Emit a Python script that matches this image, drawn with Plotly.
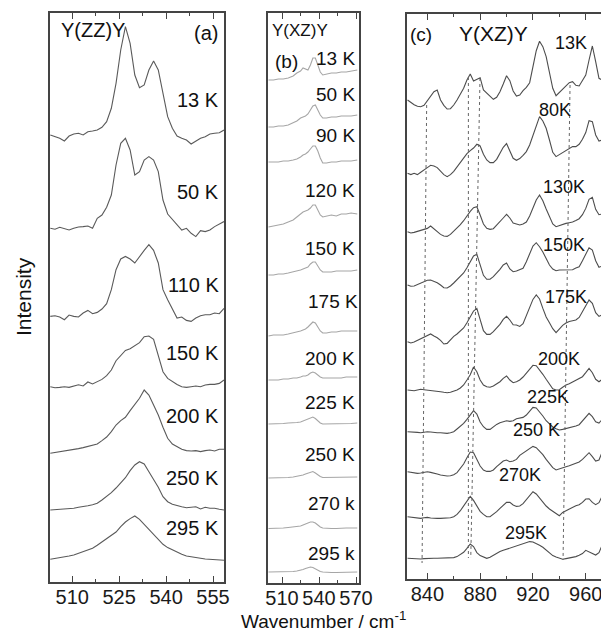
import plotly.graph_objects as go

W, H = 609, 634
BODY = 8                      # default page margin of the html body
FW, FH = W - BODY, H - BODY   # figure size that fits the window
FONT = "Liberation Sans, Arial, sans-serif"

# ---------------- panel (a)  Y(ZZ)Y ----------------
wn_a = [503, 504.5, 506, 507.5, 509, 510.5, 512, 513.5, 515, 516.5, 518, 519.5, 521, 522.5,
        524, 525.5, 527, 528.5, 530, 531.5, 533, 534.5, 536, 537.5, 539, 540.5, 542, 543.5,
        545, 546.5, 548, 549.5, 551, 552.5, 554, 555.5, 557, 558.5]
labels_a = ["13 K", "50 K", "110 K", "150 K", "200 K", "250 K", "295 K"]
offset_a = [448, 354.7, 266.3, 196.3, 129.7, 73, 23.7]
a_13K = [0, -1.7, -3.3, -6, -1, 1, 1.7, 0, 3.3, 4, 5, 7.7, 13.3, 26.7, 51.7, 85, 108.3, 91.7, 60, 47.3,
         50, 65, 74, 65, 41.7, 18.3, 6.7, -1, -3.3, -5, -9, -5.7, -3.3, -1.7, 1, 1.7, 2.3, 5]
a_50K = [0, -1, 1, 0, -1.7, 0, 1.3, 1.7, 2.3, 0, 10, 13.3, 21, 33.3, 63.3, 85, 90, 78.3, 53.3, 56.7,
         68.3, 71.7, 68.3, 56.7, 28.3, 14.3, 9, 3.3, -1.7, 0, -5, -8.3, -2.3, -3.3, -1.7, 1.7, 4, 6.7]
a_110K = [0.3, 1, -0.3, -3, 1.7, 0.3, -0.3, 3.7, 6.3, 3, 4.3, 7.7, 13, 27, 47, 57.7, 60.3, 57.7, 53.7,
          60.3, 66.3, 72, 66.3, 53.7, 27, 17, 7.7, -1.3, -0.3, -3.7, -4.7, -1.3, 1, 2, 2, 3.7, 3, 8.3]
a_150K = [0, -1, -0.7, 0, -0.7, 0.7, 2, 0.7, 4.7, 2.7, 5, 7.3, 11, 16.7, 26, 31.7, 36.3, 38, 41, 44,
          50, 50.7, 47.3, 31.7, 15, 8.3, 5, 2.3, 0, -0.7, 0, 0.7, 0, 1.7, 2.3, 2.3, 3.3, 6.7]
a_200K = [0, 0.7, 1.7, 2, 3.3, 3.3, 4.7, 5.7, 6.7, 8, 9.3, 12.7, 16.3, 21.7, 28.3, 32.7, 36, 42.7, 48.7,
          55, 63.3, 58.3, 48.3, 38.3, 26, 15, 9.3, 6.7, 4, 2.7, 2.3, 2.7, 1.7, 2.7, 3.3, 2.3, 4, 4]
a_250K = [0, 0.3, 0.7, 1, 1.3, 1.7, 2.7, 3.3, 4.3, 5.3, 6.7, 10, 13.3, 17.3, 22, 26.7, 32.3, 39.3, 45,
          48.3, 46, 38.3, 30.7, 22.7, 13.3, 8.3, 5.7, 4.3, 3.3, 2.3, 2.7, 3.3, 1, 2.7, 1.7, 1.7, 0.7, 0]
a_295K = [0, 0.7, 1.3, 2.3, 3.3, 4.3, 6, 7.3, 9, 11, 14, 17.3, 20.7, 23.3, 27.3, 32.7, 37.3, 40.7, 43.3,
          40, 35, 29, 24, 19.3, 15, 11.7, 9.3, 6.7, 5, 3.3, 2.3, 1.7, 1, 0.3, 0, 0, -0.7, -1]
spectra_a = [a_13K, a_50K, a_110K, a_150K, a_200K, a_250K, a_295K]

# ---------------- panel (b)  Y(XZ)Y ----------------
wn_b = [499, 503, 507, 511, 515, 519, 522, 525, 527, 529, 531, 533, 535, 537, 539, 541, 543, 546,
        550, 554, 558, 562, 566, 571]
labels_b = ["13 K", "50 K", "90 K", "120 K", "150 K", "175 K", "200 K", "225 K", "250 K", "270 k", "295 k"]
offset_b = [503, 456, 421, 356, 308, 247, 203, 159, 105, 54.5, 11]
b_13K = [0, 0, 1, 1, 2, 4, 7, 9, 12, 11, 10, 15, 22, 22, 14, 8, 5, 6, 7, 7, 8, 8, 9, 10]
b_50K = [0, 0, 1, 1, 2, 4, 6, 9, 10, 11, 13, 17, 21, 22, 17, 12, 9, 9, 10, 10, 11, 11, 11, 12]
b_90K = [0, 0, 0, 1, 1, 2, 3, 5, 7, 8, 10, 13, 16, 16, 11, 4, -1, -1, 0, 0, 1, 1, 1, 2]
b_120K = [0, 1, 2, 3, 5, 7, 10, 13, 15, 16, 17, 19, 22, 22, 17, 12, 10, 11, 12, 11, 13, 13, 14, 13]
b_150K = [0, 0, 1, 1, 2, 3, 4, 5, 6, 7, 8, 11, 13, 13, 9, 5, 3, 3, 3, 4, 4, 4, 4, 5]
b_175K = [0, 1, 1, 1, 2, 3, 4, 5, 6, 7, 9, 12, 14, 13, 9, 5, 3, 3, 4, 4, 5, 5, 5, 5]
b_200K = [0, 0, 0, 1, 1, 2, 2, 3, 4, 4, 5, 7, 8, 7, 5, 3, 2, 2, 2, 2, 2, 3, 3, 3]
b_225K = [0, 0, 0.5, 0.5, 1, 1, 1.5, 2, 3, 4, 5, 6.5, 7, 5.5, 3, 1, 0, 0, 0, 0, 0.5, 0.5, 0.5, 1]
b_250K = [0, 0, 0, 0.5, 0.5, 1, 1.5, 2, 3, 4, 5, 6, 6.5, 5, 3, 1.5, 0.5, 0.5, 0.5, 0.5, 1, 1, 1, 1]
b_270K = [0, 0, 0.5, 0.5, 1, 1.5, 2, 2.5, 3.5, 4.5, 5.5, 6.5, 6.5, 5.5, 3.5, 1.5, 0.5, 0, 0, 0, 0.5, 0.5, 0.5, 0.5]
b_295K = [0, 0, 0, 0, 0.5, 0.5, 1, 1.5, 2.5, 3.5, 4.5, 5, 4.5, 3, 1.5, 0.5, 0, -0.5, -0.5, -0.5, -0.5, 0, 0, 0]
spectra_b = [b_13K, b_50K, b_90K, b_120K, b_150K, b_175K, b_200K, b_225K, b_250K, b_270K, b_295K]

# ---------------- panel (c)  Y(XZ)Y ----------------
wn_c = [825, 827.5, 830, 832.5, 835, 837.5, 840, 842.5, 845, 847.5, 850, 852.5, 855, 857.5, 860,
        862.5, 865, 867.5, 870, 872.5, 875, 877.5, 880, 882.5, 885, 887.5, 890, 892.5, 895, 897.5,
        900, 902.5, 905, 907.5, 910, 912.5, 915, 917.5, 920, 922.5, 925, 927.5, 930, 932.5, 935,
        937.5, 940, 942.5, 945, 947.5, 950, 952.5, 955, 957.5, 960, 962.5, 965, 967.5, 970, 972.5,
        975, 977.5]
labels_c = ["13K", "80K", "130K", "150K", "175K", "200K", "225K", "250 K", "270K", "295K"]
offset_c = [483, 409.7, 351.3, 298, 241.3, 193, 151.3, 111.3, 66.3, 24.7]
c_13K = [0, -2.7, -4.7, -6.3, -6.7, -5.3, -0.7, 4, 8.3, 10, 0, -5.3, -9, -8.7, -5, 0, 6, 11.7, 20, 26,
         19, 20.7, 22.3, 10, 6.7, 4, 0.7, 2.7, 8.3, 16, 24.3, 19.3, 9, 4, 5, 9.3, 12.7, 17.3, 31.7, 49.3,
         58.7, 53.3, 43.3, 26.7, 11.7, 4.3, 7.3, 10.7, 14, 17.3, 18.3, 14.7, 14, 19.3, 25, 40, 54, 38.3,
         21.7, 20, 23.3, 31.7]
c_80K = [0, -1.3, 0, -1.3, 1, 3, 5.7, 8, 7.3, 5.7, 1.7, -1.3, -3.3, -1.3, 2, 6.3, 10.3, 14.7, 19.7,
         22.7, 25.3, 29, 27.3, 19, 13.3, 10.7, 10.7, 14, 20, 26, 29.7, 21.7, 15, 13, 14.7, 18, 21.7,
         28.3, 38.3, 49, 56.7, 52.3, 45, 33.3, 21, 16.7, 18.7, 20.3, 22, 24, 26.7, 26.7, 29, 34, 40.7,
         52.7, 51.7, 38.3, 32.3, 33.3, 36, 45]
c_130K = [0, -1.3, -0.7, 0.3, 1.3, 2.3, 3.3, 5.7, 3, -0.3, -2.7, -4.3, -4.7, -2.7, 0.3, 3.7, 7, 11,
          16.3, 20.3, 24, 25, 16.7, 7.7, 3.3, 2.3, 3, 6.3, 10, 13.7, 17.3, 13.7, 8.7, 7.7, 6.7, 7.7, 9.7,
          15.7, 24, 31.7, 36.7, 31, 22.7, 14.3, 7.7, 5, 6.3, 7.3, 8.3, 9, 9.7, 11.3, 13, 17, 23.3, 32.3,
          34.3, 22.3, 17, 17.7, 22.3, 30]
c_150K = [0, -1.3, -1, 0.3, 1.3, 3, 4.7, 5, 4, 2.3, 0, -2.7, -3, -1, 2, 5.3, 8.7, 12, 17.3, 23.7, 29,
          30.7, 20, 9.7, 5.7, 5.7, 8.3, 11.7, 15.7, 20, 22, 16, 13.3, 14, 15, 16.7, 23.3, 31.7, 39, 42.3,
          38.3, 33, 26.3, 20, 16, 14.3, 15, 15, 14.7, 15.3, 15.3, 17, 18.3, 24.3, 30.7, 37.3, 35, 24.3,
          17.7, 19, 23.3, 31]
c_175K = [0, -1.3, -0.3, 1.3, 3, 4.7, 6.3, 7.7, 5.7, 4, 1.3, -2.3, -1.7, 2, 5.3, 7.7, 10.3, 13.7, 19,
          24.7, 30.7, 33.3, 21.7, 11, 7.3, 7.3, 10, 13.3, 17.3, 22.3, 25.3, 21.7, 17, 16.7, 15.3, 18,
          25.7, 34, 42.3, 46.7, 42.7, 33.3, 24.7, 19, 13, 9, 12.7, 16.3, 18.7, 20.3, 21, 21.7, 24.3,
          29.7, 36.3, 41.7, 38.3, 29, 25.3, 27, 33, 41]
c_200K = [0, -0.3, -0.7, 0, 0.7, 0.3, 0, -0.3, -0.7, -1, -1.7, -2.3, -2.7, -2.3, -1.3, 0, 2, 5, 10,
          15.3, 23, 18.3, 10, 5, 3.3, 2.7, 4, 6, 8.3, 11.7, 14, 10, 7.3, 8.3, 10, 13, 17, 21, 24.7, 24.3,
          20.3, 15.7, 10.7, 5.7, 1.3, 0, 0.3, 2.7, 5, 6.3, 8, 9.7, 11.3, 13.3, 17.3, 21.7, 17.3, 10.7,
          8.3, 10.7, 18.3, 30]
c_225K = [0, 0, -0.3, -0.7, -1, -0.3, 0, -0.3, -1, -1, -1, -1.3, -1.7, -1, 0, 2.7, 5.3, 8.3, 12.3, 17,
          21, 17.7, 9.7, 5, 2.3, 2.3, 5, 7.3, 9, 10, 11, 10.3, 11, 13, 13.3, 14.3, 16.7, 20.7, 24.3, 23.7,
          20, 15.7, 11, 7.3, 4.7, 3, 1.7, 2.3, 3, 3.7, 4.7, 5.7, 7, 10.7, 14.3, 18.3, 15, 10, 8.7, 12.3,
          22.3, 34.3]
c_250K = [0, -0.7, -1.3, -1.7, -1.3, -0.3, 0, -0.7, -1.3, -2.3, -3.3, -4, -4.3, -4, -3, -1, 3, 7.7,
          14, 19.7, 19, 12.3, 5.7, 1.7, 0.3, 0.3, 1.7, 5, 8.3, 10.7, 11.7, 10, 10.7, 12.3, 16.3, 18.7,
          20.7, 23, 25.3, 24, 20.7, 17, 12.3, 8, 4, 1.7, 3, 4, 5, 6, 7.3, 8.3, 9.7, 12.3, 16, 19, 15,
          10.7, 11.7, 20, 35, 51.7]
c_270K = [0, -0.3, -1, -1.3, -1.7, -1, -0.7, -1.3, -1.7, -1.7, -1.7, -1.7, -1.7, -1, 0, 2.3, 6, 11,
          16.3, 20.3, 16.3, 10, 5.3, 2.3, 0, 0, 2.3, 5, 8.3, 11.7, 14.3, 14.3, 11.7, 10.3, 10.7, 13,
          17.3, 21.7, 25, 22.7, 18.7, 14, 10.7, 7.7, 5.3, 3.3, 1, 4.3, 6, 7.7, 9.7, 11, 12, 14.3, 17.7,
          18, 14.3, 12, 14, 20.7, 35, 52.7]
c_295K = [0, -0.3, -0.7, -1, -0.7, -0.3, 0, 0, 0, 0, 0, 0, 0, 0.3, 0.7, 1.7, 3.7, 6, 10, 14.3, 11.7,
          5.7, 2.7, 1, 0, 1, 3, 5, 6.7, 8, 9, 10, 11, 12, 13.3, 14.7, 15.7, 16.7, 16.3, 15, 13, 11, 8,
          5.3, 2.7, 1.3, 0, -1, -0.3, 0.3, 1, 1.7, 3, 4.7, 8, 6.7, 4.7, 3.3, 5.7, 13.3, 25, 45]
spectra_c = [c_13K, c_80K, c_130K, c_150K, c_175K, c_200K, c_225K, c_250K, c_270K, c_295K]

# dotted guide lines in panel (c): (wavenumber top, intensity top, wavenumber bottom, intensity bottom)
guides_c = [(839.5, 478, 836, 20), (871.1, 506, 871.1, 25), (879.9, 505, 872.9, 25), (948.1, 498, 942.8, 23)]

COL_A = "#5a5a5a"
COL_B = "#a6a6a6"
COL_C = "#4d4d4d"
AX_COL = "#444444"


def fx(p):
    return (p - BODY) / FW


def fy(p):
    return 1 - (p - BODY) / FH


fig = go.Figure()
for vals, off in zip(spectra_a, offset_a):
    fig.add_trace(go.Scatter(x=wn_a, y=[v + off for v in vals], mode="lines",
                             line=dict(color=COL_A, width=1.1), xaxis="x", yaxis="y",
                             hoverinfo="skip", showlegend=False))
for vals, off in zip(spectra_b, offset_b):
    fig.add_trace(go.Scatter(x=wn_b, y=[v + off for v in vals], mode="lines",
                             line=dict(color=COL_B, width=1.1), xaxis="x2", yaxis="y2",
                             hoverinfo="skip", showlegend=False))
for vals, off in zip(spectra_c, offset_c):
    fig.add_trace(go.Scatter(x=wn_c, y=[v + off for v in vals], mode="lines",
                             line=dict(color=COL_C, width=1.1), xaxis="x3", yaxis="y3",
                             hoverinfo="skip", showlegend=False))

shapes = []
for x0, y0, x1, y1 in guides_c:
    shapes.append(dict(type="line", xref="x3", yref="y3", x0=x0, y0=y0, x1=x1, y1=y1,
                       line=dict(color="#666666", width=1, dash="dot")))


def xax(domain, rng, tick0, dtick, mdtick):
    return dict(domain=domain, range=rng, tick0=tick0, dtick=dtick, ticks="inside", ticklen=6,
                tickwidth=1.2, tickcolor=AX_COL, showline=True, linecolor=AX_COL, linewidth=1.5,
                mirror="ticks", showgrid=False, zeroline=False, ticklabelstandoff=-4,
                tickfont=dict(family=FONT, size=20, color="#1a1a1a"),
                minor=dict(tick0=tick0, dtick=mdtick, ticks="inside", ticklen=3, tickcolor=AX_COL,
                           showgrid=False))


def yax(domain, rng, mirror, anchor):
    return dict(domain=domain, range=rng, showticklabels=False, ticks="", showline=True,
                linecolor=AX_COL, linewidth=1.5, mirror=mirror, showgrid=False, zeroline=False,
                anchor=anchor)


fig.update_layout(
    width=FW, height=FH, margin=dict(l=0, r=0, t=0, b=0, autoexpand=False),
    paper_bgcolor="white", plot_bgcolor="white", showlegend=False,
    xaxis=dict(xax([fx(50), fx(224)], [502.9, 558.5], 510, 15, 7.5), anchor="y"),
    yaxis=yax([fy(582), fy(13)], [1, 570], True, "x"),
    xaxis2=dict(xax([fx(268), fx(359)], [498.6, 572.4], 510, 30, 15), anchor="y2"),
    yaxis2=yax([fy(583), fy(13)], [0, 570], True, "x2"),
    xaxis3=dict(xax([fx(407), 1.0], [824.6, 977.6], 840, 40, 20), anchor="y3"),
    yaxis3=yax([fy(579), fy(14)], [4, 569], False, "x3"),
    shapes=shapes,
)

ann = []


def txt(t, x, y, size, xanchor="center"):
    ann.append(dict(text=t, x=fx(x), y=fy(y), xref="paper", yref="paper", showarrow=False,
                    xanchor=xanchor, yanchor="middle", font=dict(family=FONT, size=size, color="#111111")))


# panel (a) text
txt("Y(ZZ)Y", 59, 30, 20, "left")
txt("(a)", 220, 33, 20, "right")
for lab, yy in zip(labels_a, [100, 192, 285, 353, 416, 478, 528]):
    txt(lab, 221, yy, 20, "right")
# panel (b) text
txt("Y(XZ)Y", 270, 30, 17, "left")
txt("(b)", 273, 61, 19, "left")
for lab, yy, xx in zip(labels_b, [58, 95, 135, 190, 248, 301, 358, 402, 454, 503, 553],
                       [357, 357, 357, 357, 357, 360, 357, 357, 357, 357, 357]):
    txt(lab, xx, yy, 19, "right")
# panel (c) text
txt("(c)", 421, 35, 19)
txt("Y(XZ)Y", 494, 34, 21)
for lab, xx, yy in zip(labels_c, [571, 555, 564, 564, 566, 559, 548, 536, 520, 526],
                       [43, 110, 187, 245, 297, 359, 397, 430, 475, 533]):
    txt(lab, xx, yy, 18)

# axis titles
ann.append(dict(text="Intensity", x=fx(24), y=fy(297), xref="paper", yref="paper", showarrow=False,
                textangle=-90, xanchor="center", yanchor="middle",
                font=dict(family=FONT, size=21, color="#111111")))
ann.append(dict(text="Wavenumber / cm<sup>-1</sup>", x=fx(323), y=0, xref="paper", yref="paper",
                showarrow=False, xanchor="center", yanchor="bottom",
                font=dict(family=FONT, size=19, color="#111111")))
fig.update_layout(annotations=ann)

fig.write_html("out.html")
